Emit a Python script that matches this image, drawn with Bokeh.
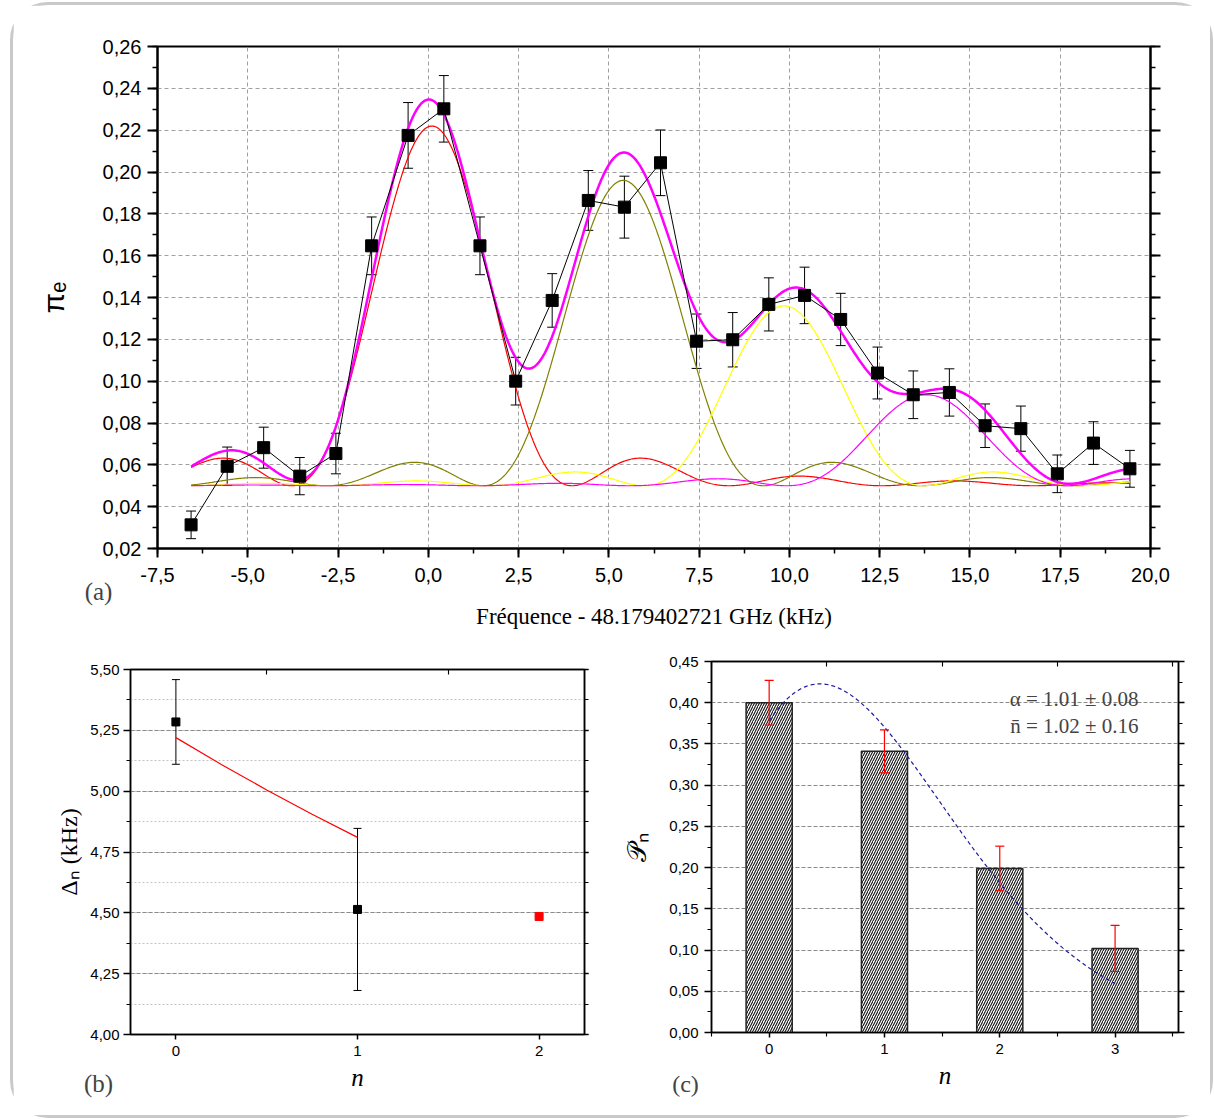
import math
import numpy as np
from bokeh.plotting import figure
from bokeh.models import (ColumnDataSource, Whisker, TeeHead, Label, LinearAxis, Range1d,
                          CustomJSTickFormatter, FixedTicker, SingleIntervalTicker)
from bokeh.layouts import column, row
from bokeh.embed import file_html
from bokeh.resources import INLINE

# ---------------- data: panel (a) ----------------
freq_khz = [-6.57, -5.57, -4.56, -3.56, -2.56, -1.57, -0.56, 0.43, 1.43, 2.42, 3.43, 4.43, 5.43,
            6.43, 7.43, 8.43, 9.43, 10.42, 11.42, 12.44, 13.43, 14.43, 15.42, 16.41, 17.42, 18.42, 19.43]
pi_e = [0.0313, 0.0593, 0.0682, 0.0546, 0.0654, 0.1647, 0.2175, 0.2302, 0.1647, 0.1000, 0.1386,
        0.1864, 0.1832, 0.2044, 0.1191, 0.1198, 0.1367, 0.1410, 0.1295, 0.1039, 0.0935, 0.0946,
        0.0787, 0.0773, 0.0557, 0.0704, 0.0581]
pi_e_err = [0.0066, 0.0092, 0.0098, 0.0089, 0.0097, 0.0138, 0.0157, 0.0159, 0.0138, 0.0114, 0.0128,
            0.0143, 0.0148, 0.0157, 0.0130, 0.0130, 0.0127, 0.0135, 0.0125, 0.0124, 0.0114, 0.0113,
            0.0104, 0.0108, 0.0090, 0.0102, 0.0088]

# fitted Rabi resonance components
fit_centres = [0.1, 5.4, 9.85, 13.8]
fit_amplitudes = [0.172, 0.146, 0.086, 0.0435]
fit_colors = ["#ff0000", "#808000", "#ffff00", "#ff00ff"]
fit_baseline = 0.05
fit_rabi_khz = 1.57
fit_pulse_area = 0.75 * math.pi

# ---------------- data: panel (b) ----------------
n_b = [0, 1]
delta_n = [5.2845, 4.514]
delta_n_err = [0.174, 0.333]
n_b_pred = [2]
delta_n_pred = [4.485]
delta_fit_n = [0.0, 0.25, 0.5, 0.75, 1.0]
delta_fit = [5.22, 5.11, 5.005, 4.905, 4.81]

# ---------------- data: panel (c) ----------------
n_c = [0, 1, 2, 3]
p_n = [0.400, 0.341, 0.199, 0.102]
p_n_err = [0.027, 0.026, 0.027, 0.028]
poisson_alpha = 1.007
poisson_nbar = 0.98

SANS = "Liberation Sans"
SERIF = "Liberation Serif"


def comma_fmt(d):
    return CustomJSTickFormatter(code="return tick.toFixed(%d).replace('.', ',');" % d)


def blank_fmt():
    return CustomJSTickFormatter(code="return '';")


def style_axis(ax, size, tick_out, minor_out, standoff, lw=2.0, tick_in=0, minor_in=0):
    ax.axis_line_width = lw
    ax.axis_line_color = "black"
    ax.major_tick_line_width = lw
    ax.minor_tick_line_width = lw * 0.75
    ax.major_tick_line_color = "black"
    ax.minor_tick_line_color = "black"
    ax.major_tick_out = tick_out
    ax.minor_tick_out = minor_out
    ax.major_tick_in = tick_in
    ax.minor_tick_in = minor_in
    ax.major_label_text_font = SANS
    ax.major_label_text_font_size = size
    ax.major_label_text_color = "black"
    ax.major_label_standoff = standoff


def axis_title(ax, text, font, size, style, standoff):
    ax.axis_label = text
    ax.axis_label_text_font = font
    ax.axis_label_text_font_size = size
    ax.axis_label_text_font_style = style
    ax.axis_label_text_color = "black"
    ax.axis_label_standoff = standoff


def side_label(p, text, x, y, size="25px"):
    p.add_layout(Label(x=x, y=y, x_units="screen", y_units="screen", text=text, text_align="center",
                       text_baseline="middle", text_font=SERIF, text_font_size=size), "above")


def rabi(x, c, a):
    d = (np.asarray(x) - c) / fit_rabi_khz
    u = np.sqrt(1.0 + d * d)
    return a * np.sin(fit_pulse_area / 2 * u) ** 2 / u ** 2 / math.sin(fit_pulse_area / 2) ** 2


# ================= panel (a) =================
pa = figure(frame_width=993, frame_height=502, x_range=Range1d(-7.5, 20.0), y_range=Range1d(0.02, 0.26),
            output_backend="svg", toolbar_location=None, frame_align=False,
            min_border_left=144, min_border_right=60, min_border_top=41, min_border_bottom=83,
            outline_line_color="black", outline_line_width=2, border_fill_color="white")
ax_a_x = pa.below[0]
ax_a_y = pa.left[0]
ax_a_x.ticker = SingleIntervalTicker(interval=2.5, num_minor_ticks=2)
ax_a_y.ticker = SingleIntervalTicker(interval=0.02, num_minor_ticks=2)
ax_a_x.formatter = comma_fmt(1)
ax_a_y.formatter = comma_fmt(2)
style_axis(ax_a_x, "20px", 9, 5, 10)
style_axis(ax_a_y, "20px", 10, 5, 6)
axis_title(ax_a_x, "Fréquence - 48.179402721 GHz (kHz)", SERIF, "23px", "normal", 19)
axis_title(ax_a_y, "πₑ", SANS, "30px", "normal", 30)
ra = LinearAxis(ticker=SingleIntervalTicker(interval=0.02, num_minor_ticks=2), formatter=blank_fmt())
style_axis(ra, "1px", 10, 5, 0)
pa.add_layout(ra, "right")
for g in (pa.xgrid, pa.ygrid):
    g.grid_line_color = "#a0a0a0"
    g.grid_line_dash = "4 3"
    g.grid_line_width = 1

xs = np.linspace(freq_khz[0], freq_khz[-1], 800)
total = np.full_like(xs, fit_baseline)
for c, a, col in zip(fit_centres, fit_amplitudes, fit_colors):
    comp = rabi(xs, c, a)
    total = total + comp
    pa.line(xs, fit_baseline + comp, line_color=col, line_width=1.2)
pa.line(xs, total, line_color="#ff00ff", line_width=2.5)

src_a = ColumnDataSource(dict(x=freq_khz, y=pi_e,
                              lo=[v - e for v, e in zip(pi_e, pi_e_err)],
                              hi=[v + e for v, e in zip(pi_e, pi_e_err)]))
pa.add_layout(Whisker(base="x", lower="lo", upper="hi", source=src_a, dimension="height",
                      line_color="black", line_width=1,
                      upper_head=TeeHead(size=10, line_color="black", line_width=1),
                      lower_head=TeeHead(size=10, line_color="black", line_width=1)))
pa.line("x", "y", source=src_a, line_color="black", line_width=1)
pa.scatter("x", "y", source=src_a, marker="square", size=12, fill_color="black", line_color="black")
side_label(pa, "(a)", -59, -545)

# ================= panel (b) =================
pb = figure(frame_width=454, frame_height=365, x_range=Range1d(-0.25, 2.25), y_range=Range1d(4.0, 5.5),
            output_backend="svg", toolbar_location=None, frame_align=False,
            min_border_left=117, min_border_right=29, min_border_top=38, min_border_bottom=81,
            outline_line_color="black", outline_line_width=1.5, border_fill_color="white")
ax_b_x = pb.below[0]
ax_b_y = pb.left[0]
ax_b_x.ticker = FixedTicker(ticks=[0, 1, 2], minor_ticks=[0.5, 1.5])
ax_b_y.ticker = SingleIntervalTicker(interval=0.25, num_minor_ticks=2)
ax_b_y.formatter = comma_fmt(2)
style_axis(ax_b_x, "15px", 5, 0, 6, lw=1.5)
style_axis(ax_b_y, "15px", 7, 4, 4, lw=1.5)
axis_title(ax_b_x, "n", SERIF, "25px", "italic", 5)
axis_title(ax_b_y, "Δₙ (kHz)", SERIF, "24px", "normal", 5)
rb = LinearAxis(ticker=SingleIntervalTicker(interval=0.25, num_minor_ticks=2), formatter=blank_fmt())
style_axis(rb, "1px", 4, 4, 0, lw=1.5)
pb.add_layout(rb, "right")
tb = LinearAxis(ticker=FixedTicker(ticks=[0, 1, 2], minor_ticks=[0.5, 1.5]), formatter=blank_fmt())
style_axis(tb, "1px", 0, 0, 0, lw=1.5, tick_in=0, minor_in=5)
pb.add_layout(tb, "above")
pb.xgrid.visible = False
pb.ygrid.grid_line_color = "#8a8a8a"
pb.ygrid.grid_line_dash = "4 2"
pb.ygrid.minor_grid_line_color = "#c4c4c4"
pb.ygrid.minor_grid_line_dash = "2 2"

pb.line(delta_fit_n, delta_fit, line_color="#ff0000", line_width=1.2)
src_b = ColumnDataSource(dict(x=n_b, y=delta_n,
                              lo=[v - e for v, e in zip(delta_n, delta_n_err)],
                              hi=[v + e for v, e in zip(delta_n, delta_n_err)]))
pb.add_layout(Whisker(base="x", lower="lo", upper="hi", source=src_b, dimension="height",
                      line_color="black", line_width=1,
                      upper_head=TeeHead(size=8, line_color="black", line_width=1),
                      lower_head=TeeHead(size=8, line_color="black", line_width=1)))
pb.scatter("x", "y", source=src_b, marker="square", size=8, fill_color="black", line_color="black")
pb.scatter(n_b_pred, delta_n_pred, marker="square", size=8, fill_color="#ff0000", line_color="#ff0000")
side_label(pb, "(b)", -32, -414)

# ================= panel (c) =================
pc = figure(frame_width=467, frame_height=371, x_range=Range1d(-0.5, 3.55), y_range=Range1d(0.0, 0.45),
            output_backend="svg", toolbar_location=None, frame_align=False,
            min_border_left=98, min_border_right=32, min_border_top=30, min_border_bottom=83,
            outline_line_color="black", outline_line_width=1.5, border_fill_color="white")
ax_c_x = pc.below[0]
ax_c_y = pc.left[0]
ax_c_x.ticker = FixedTicker(ticks=[0, 1, 2, 3], minor_ticks=[-0.5, 0.5, 1.5, 2.5, 3.5])
ax_c_y.ticker = SingleIntervalTicker(interval=0.05, num_minor_ticks=2)
ax_c_y.formatter = comma_fmt(2)
style_axis(ax_c_x, "15px", 5, 4, 6, lw=1.5)
style_axis(ax_c_y, "15px", 7, 4, 6, lw=1.5)
axis_title(ax_c_x, "n", SERIF, "25px", "italic", 5)
axis_title(ax_c_y, "𝒫ₙ", SERIF, "26px", "normal", 14)
rc = LinearAxis(ticker=SingleIntervalTicker(interval=0.05, num_minor_ticks=2), formatter=blank_fmt())
style_axis(rc, "1px", 6, 4, 0, lw=1.5)
pc.add_layout(rc, "right")
tc = LinearAxis(ticker=FixedTicker(ticks=[0, 1, 2, 3], minor_ticks=[-0.5, 0.5, 1.5, 2.5, 3.5]),
                formatter=blank_fmt())
style_axis(tc, "1px", 0, 0, 0, lw=1.5, tick_in=0, minor_in=5)
pc.add_layout(tc, "above")
pc.xgrid.visible = False
pc.ygrid.grid_line_color = "#8a8a8a"
pc.ygrid.grid_line_dash = "4 2"

pc.vbar(x=n_c, top=p_n, bottom=0, width=0.4, fill_color="white", line_color="#222222", line_width=1.5,
        hatch_pattern="/", hatch_color="#111111", hatch_scale=5, hatch_weight=1.1)
nn = np.linspace(0, 3, 300)
curve = [poisson_alpha * poisson_nbar ** v * math.exp(-poisson_nbar) / math.gamma(v + 1) for v in nn]
pc.line(nn, curve, line_color="#1c1c9c", line_width=1.2, line_dash="4 3")
src_c = ColumnDataSource(dict(x=n_c, y=p_n,
                              lo=[v - e for v, e in zip(p_n, p_n_err)],
                              hi=[v + e for v, e in zip(p_n, p_n_err)]))
pc.add_layout(Whisker(base="x", lower="lo", upper="hi", source=src_c, dimension="height",
                      line_color="#ff0000", line_width=1.2, level="overlay",
                      upper_head=TeeHead(size=9, line_color="#ff0000", line_width=1.2),
                      lower_head=TeeHead(size=9, line_color="#ff0000", line_width=1.2)))

pc.add_layout(Label(x=427, y=334, x_units="screen", y_units="screen", text="α = 1.01 ± 0.08",
                    text_align="right", text_baseline="alphabetic", text_font=SERIF, text_font_size="21px"))
pc.add_layout(Label(x=427, y=307, x_units="screen", y_units="screen", text="n̄ = 1.02 ± 0.16",
                    text_align="right", text_baseline="alphabetic", text_font=SERIF, text_font_size="21px"))
side_label(pc, "(c)", -26, -422, size="24px")

layout = column(pa, row(pb, pc),
                styles={"border": "3px solid #c9c9c9", "border-radius": "38px", "background": "white",
                        "margin-left": "10px", "margin-top": "2px"})

open("out.html", "w").write(file_html(layout, INLINE))
